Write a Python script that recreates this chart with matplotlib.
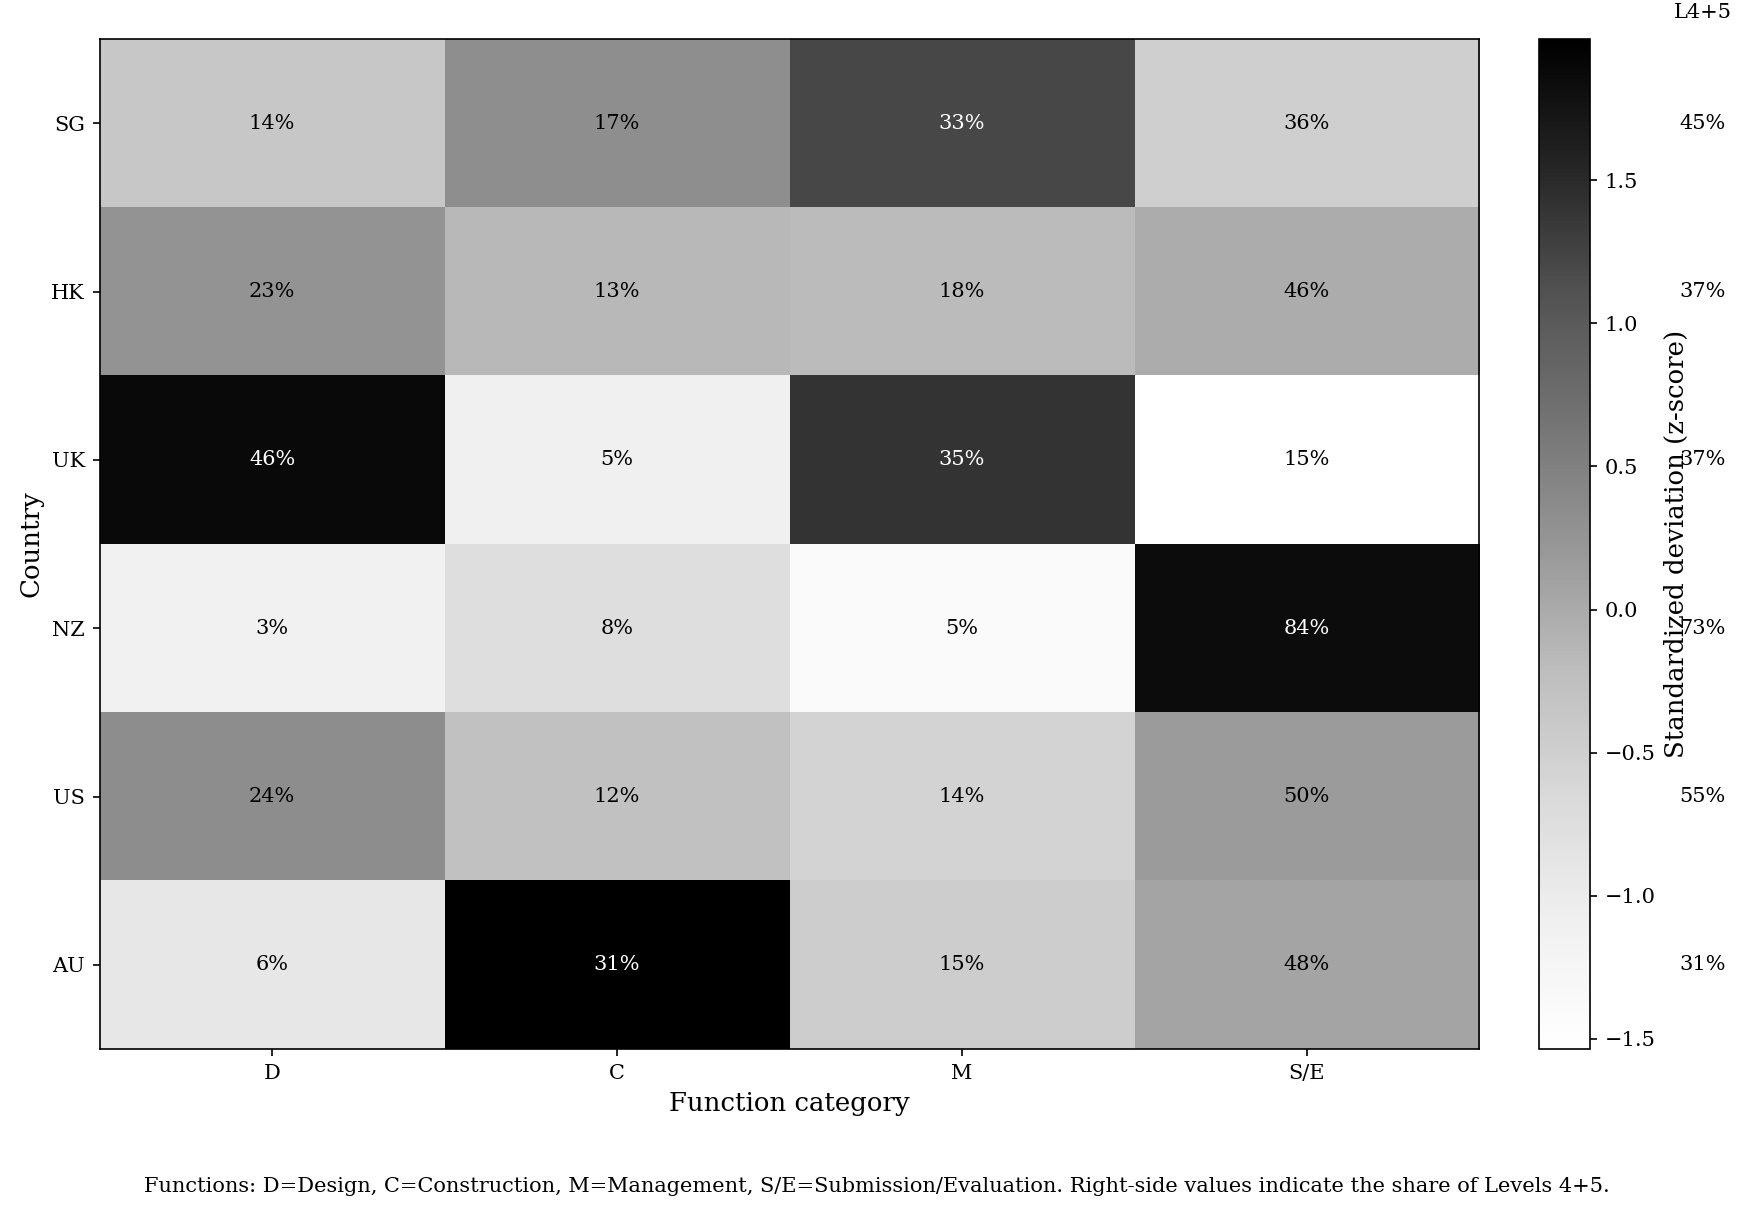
import numpy as np
import matplotlib
matplotlib.use("Agg")
import matplotlib.pyplot as plt

plt.rcParams['font.family'] = ['DejaVu Serif']

countries = ["SG", "HK", "UK", "NZ", "US", "AU"]
functions = ["D", "C", "M", "S/E"]
shares = np.array([
    [14, 17, 33, 36],
    [23, 13, 18, 46],
    [46, 5, 35, 15],
    [3, 8, 5, 84],
    [24, 12, 14, 50],
    [6, 31, 15, 48],
], dtype=float)
l45 = ["45%", "37%", "37%", "73%", "55%", "31%"]

# column-wise standardization
z = (shares - shares.mean(axis=0)) / shares.std(axis=0)

fig = plt.figure(figsize=(1753/150, 1205/150), dpi=150)
ax = fig.add_axes([0.0568, 0.1295, 0.787, 0.838])
cax = fig.add_axes([0.878, 0.1295, 0.029, 0.838])

im = ax.imshow(z, cmap="Greys", aspect="auto", vmin=z.min(), vmax=z.max())
ax.set_xticks(range(len(functions)))
ax.set_xticklabels(functions, fontsize=10)
ax.set_yticks(range(len(countries)))
ax.set_yticklabels(countries, fontsize=10)
ax.set_xlabel("Function category", fontsize=12.5)
ax.set_ylabel("Country", fontsize=12.5)

for i in range(len(countries)):
    for j in range(len(functions)):
        col = "white" if z[i, j] > 1.0 else "black"
        ax.text(j, i, f"{int(shares[i, j])}%", ha="center", va="center",
                fontsize=10, color=col)

cb = fig.colorbar(im, cax=cax)
cb.set_label("Standardized deviation (z-score)", fontsize=12.5)
cb.ax.tick_params(labelsize=10)

for i, v in enumerate(l45):
    ax.text(1.162, i, v, transform=ax.get_yaxis_transform(),
            ha="center", va="center", fontsize=10)
ax.text(1.162, 1.026, "L4+5", transform=ax.transAxes, ha="center",
        va="center", fontsize=10)

fig.text(0.5, 0.015, "Functions: D=Design, C=Construction, M=Management, "
         "S/E=Submission/Evaluation. Right-side values indicate the share of Levels 4+5.",
         ha="center", va="center", fontsize=10)

fig.savefig("out.png", dpi=150)
